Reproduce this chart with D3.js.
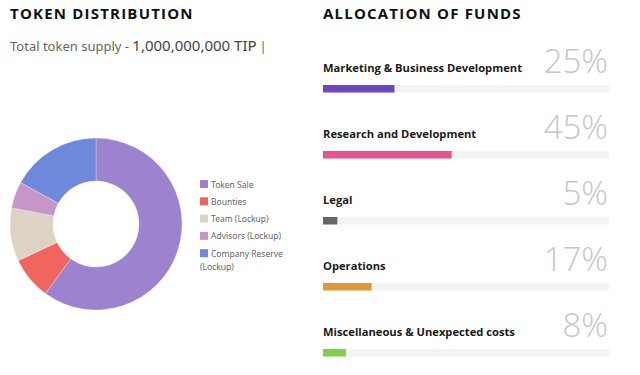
<!DOCTYPE html>
<html>
<head>
<meta charset="utf-8">
<script src="https://cdn.jsdelivr.net/npm/d3@7"></script>
<style>
  body { margin: 0; background: #fff; }
  svg text { font-family: "Open Sans", sans-serif; }
  .title { font-size: 15px; font-weight: 700; fill: #111; letter-spacing: 1.2px; }
  .supply { font-family: "Noto Sans", sans-serif; font-size: 13px; fill: #666; }
  .supplyNum { font-size: 15px; fill: #444; }
  .legendLabel { font-family: "Noto Sans", sans-serif; font-size: 8.5px; fill: #666; }
  .fundLabel { font-size: 11.2px; font-weight: 700; fill: #1a1a1a; }
  .fundPct { font-size: 33px; font-weight: 300; fill: #c6c6c6; }
</style>
</head>
<body>
<div id="chart"></div>
<script>
// Token distribution (percent of total supply)
var tokenLabels  = ['Token Sale', 'Bounties', 'Team (Lockup)', 'Advisors (Lockup)', 'Company Reserve (Lockup)'];
var tokenValues  = [60, 8, 10, 5, 17];
var tokenColours = ['#9c82cf', '#f0665f', '#dcd3c2', '#c796c8', '#6e88dc'];

// Allocation of funds
var fundLabels  = ['Marketing & Business Development', 'Research and Development', 'Legal', 'Operations', 'Miscellaneous & Unexpected costs'];
var fundValues  = [25, 45, 5, 17, 8];
var fundColours = ['#7046c0', '#e8528f', '#666666', '#e09a35', '#7fd04b'];

var width  = 640;
var height = 375;

var svg = d3.select('div#chart')
            .append('svg')
            .attr('width', width)
            .attr('height', height);

//
// Left panel: donut
//
svg.append('text')
   .attr('class', 'title')
   .attr('x', 10)
   .attr('y', 19)
   .text('TOKEN DISTRIBUTION');

var supply = svg.append('text')
   .attr('class', 'supply')
   .attr('x', 10)
   .attr('y', 51);
supply.append('tspan').text('Total token supply - ');
supply.append('tspan').attr('class', 'supplyNum').text('1,000,000,000 TIP');
supply.append('tspan').attr('dx', 3).text('|');

var pie = d3.pie()
            .sort(null)
            .value(function (d) { return d; });

var arc = d3.arc()
            .innerRadius(43)
            .outerRadius(86);

var donut = svg.append('g')
               .attr('transform', 'translate(96,224)');

donut.selectAll('path')
     .data(pie(tokenValues))
     .enter()
     .append('path')
     .attr('d', arc)
     .attr('fill', function (d, i) { return tokenColours[i]; })
     .attr('stroke', '#fff')
     .attr('stroke-width', 0.3);

var legend = svg.append('g').attr('transform', 'translate(200,180)');
var rowY = 17.3;

tokenLabels.forEach(function (lab, i)
{
    legend.append('rect')
          .attr('x', 0)
          .attr('y', i * rowY)
          .attr('width', 8)
          .attr('height', 8)
          .attr('fill', tokenColours[i]);

    // last label wraps onto a second line
    var t = legend.append('text')
          .attr('class', 'legendLabel')
          .attr('x', 11)
          .attr('y', i * rowY + 7.5);
    if (lab === 'Company Reserve (Lockup)')
    {
        t.append('tspan').text('Company Reserve');
        t.append('tspan').attr('x', 0).attr('dy', 13).text('(Lockup)');
    }
    else
        t.text(lab);
});

//
// Right panel: progress bars
//
svg.append('text')
   .attr('class', 'title')
   .attr('x', 323)
   .attr('y', 19)
   .text('ALLOCATION OF FUNDS');

var xScale = d3.scaleLinear()
               .domain([0, 100])
               .range([0, 286]);

var rowScale = d3.scaleLinear()
                 .domain([0, 1])
                 .range([72, 138]);

var barH = 7.5;

fundLabels.forEach(function (lab, i)
{
    var y = rowScale(i);
    var g = svg.append('g').attr('transform', 'translate(323,' + y + ')');

    g.append('text')
     .attr('class', 'fundLabel')
     .attr('x', 0)
     .attr('y', 0)
     .text(lab);

    g.append('text')
     .attr('class', 'fundPct')
     .attr('x', xScale(100) - 1)
     .attr('y', 1)
     .attr('text-anchor', 'end')
     .text(fundValues[i] + '%');

    g.append('rect')
     .attr('x', 0)
     .attr('y', 13)
     .attr('width', xScale(100))
     .attr('height', barH)
     .attr('rx', 1.5)
     .attr('fill', '#f3f3f3');

    g.append('rect')
     .attr('x', 0)
     .attr('y', 13)
     .attr('width', xScale(fundValues[i]))
     .attr('height', barH)
     .attr('fill', fundColours[i]);
});
</script>
</body>
</html>
